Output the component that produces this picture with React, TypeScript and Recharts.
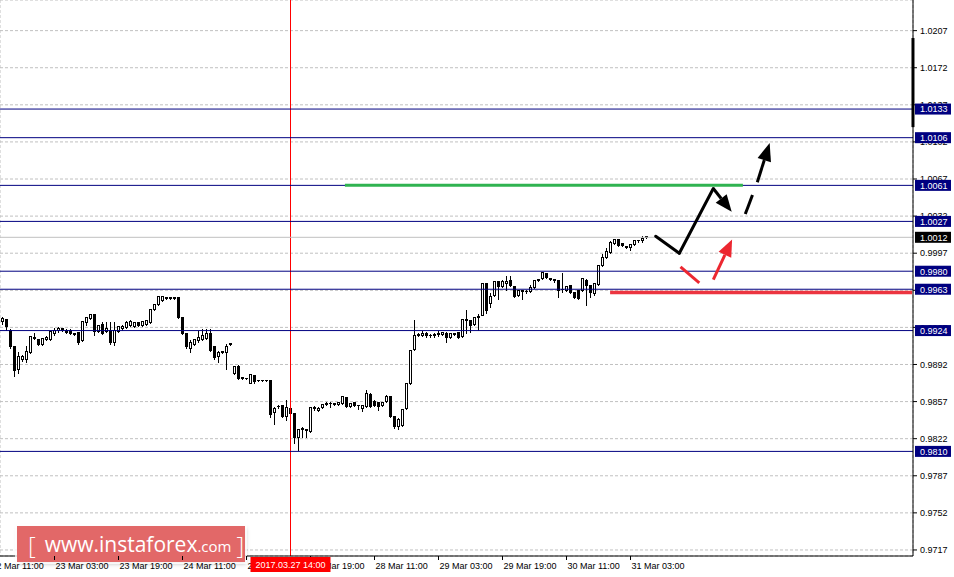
import {
  Bar,
  CartesianGrid,
  ComposedChart,
  ReferenceLine,
  XAxis,
  YAxis,
} from "recharts";

// H1 candles, [open, high, low, close], one array per trading day
const mar22 = [
  [0.9933, 0.9938, 0.993, 0.9936], [0.9935, 0.9936, 0.9925, 0.9928], [0.9925, 0.9926, 0.9908, 0.9909],
  [0.9909, 0.991, 0.9881, 0.9887], [0.9888, 0.9905, 0.9884, 0.99], [0.9897, 0.9902, 0.9895, 0.99],
  [0.9897, 0.991, 0.9894, 0.9905], [0.9904, 0.992, 0.9903, 0.9919], [0.9917, 0.9923, 0.9916, 0.9918],
  [0.9916, 0.9917, 0.991, 0.9911],
];
const mar23 = [
  [0.9911, 0.9918, 0.991, 0.9917], [0.9916, 0.992, 0.9915, 0.9918], [0.9916, 0.9924, 0.9915, 0.9924],
  [0.9922, 0.9927, 0.992, 0.9925], [0.9925, 0.9928, 0.9923, 0.9926], [0.9926, 0.9927, 0.9924, 0.9925],
  [0.9925, 0.9926, 0.9922, 0.9923], [0.9925, 0.9926, 0.9921, 0.9922], [0.9922, 0.9923, 0.992, 0.9921],
  [0.9923, 0.9924, 0.9911, 0.9913], [0.9915, 0.9934, 0.9914, 0.9933], [0.9932, 0.9938, 0.9929, 0.9937],
  [0.9936, 0.9941, 0.9935, 0.994], [0.994, 0.9941, 0.992, 0.9924], [0.9924, 0.993, 0.9923, 0.9929],
  [0.993, 0.9933, 0.9921, 0.9922], [0.9924, 0.9933, 0.9923, 0.9926], [0.9925, 0.9933, 0.9911, 0.9913],
  [0.9913, 0.9933, 0.991, 0.9925], [0.9924, 0.9929, 0.9923, 0.9928], [0.9926, 0.993, 0.9925, 0.9928],
  [0.9927, 0.9934, 0.9926, 0.9932], [0.9929, 0.9935, 0.9928, 0.9933], [0.9928, 0.9933, 0.9927, 0.9932],
];
const mar24 = [
  [0.9932, 0.9933, 0.9928, 0.9929], [0.9929, 0.9934, 0.9928, 0.9933], [0.993, 0.9935, 0.9929, 0.9934],
  [0.9932, 0.9945, 0.9931, 0.9944], [0.9944, 0.995, 0.9943, 0.9949], [0.9949, 0.9958, 0.9948, 0.9957],
  [0.9953, 0.9958, 0.9952, 0.9957], [0.9956, 0.9957, 0.9954, 0.9955], [0.9955, 0.9957, 0.9954, 0.9956],
  [0.9955, 0.9957, 0.9954, 0.9956], [0.9956, 0.9957, 0.9936, 0.9937], [0.9937, 0.9938, 0.9921, 0.9922],
  [0.9922, 0.9923, 0.9908, 0.9909], [0.9908, 0.9916, 0.9904, 0.9913], [0.9911, 0.9917, 0.991, 0.9916],
  [0.9915, 0.9925, 0.9913, 0.9918], [0.9916, 0.9926, 0.9915, 0.992], [0.9917, 0.9926, 0.9916, 0.9922],
  [0.9922, 0.9926, 0.9905, 0.9906], [0.9909, 0.991, 0.9897, 0.9899], [0.99, 0.9906, 0.9894, 0.9904],
  [0.9904, 0.9906, 0.9903, 0.9905], [0.9904, 0.9912, 0.9888, 0.9909], [0.9911, 0.9913, 0.991, 0.9912],
];
const mar27 = [
  [0.9884, 0.9891, 0.9883, 0.9891], [0.9891, 0.9892, 0.9878, 0.9879], [0.9879, 0.9881, 0.9878, 0.988],
  [0.9879, 0.988, 0.9878, 0.9879], [0.9875, 0.9884, 0.9875, 0.9883], [0.9882, 0.9883, 0.9875, 0.9876],
  [0.9877, 0.9878, 0.9876, 0.9877], [0.9877, 0.9878, 0.9876, 0.9877], [0.9877, 0.9878, 0.9876, 0.9877],
  [0.9877, 0.9878, 0.9842, 0.9845], [0.9847, 0.9853, 0.9836, 0.9851], [0.9853, 0.9855, 0.9851, 0.9853],
  [0.9854, 0.9855, 0.9842, 0.9843], [0.9843, 0.9859, 0.984, 0.9852], [0.9851, 0.9852, 0.9845, 0.9846],
  [0.9846, 0.9847, 0.9818, 0.9824], [0.9824, 0.9832, 0.9811, 0.9831], [0.9831, 0.9834, 0.9824, 0.9832],
  [0.983, 0.9832, 0.9824, 0.9831], [0.9829, 0.9853, 0.9828, 0.9852], [0.9852, 0.9854, 0.9849, 0.9851],
  [0.9849, 0.9853, 0.9848, 0.9851], [0.9852, 0.9856, 0.9851, 0.9855], [0.9855, 0.9858, 0.9854, 0.9856],
];
const mar28 = [
  [0.9856, 0.9858, 0.9852, 0.9856], [0.9856, 0.9857, 0.9854, 0.9855], [0.9855, 0.9858, 0.9854, 0.9857],
  [0.9856, 0.9862, 0.9855, 0.9862], [0.9861, 0.9862, 0.9852, 0.9853], [0.9853, 0.9857, 0.9852, 0.9856],
  [0.9857, 0.9858, 0.9853, 0.9854], [0.9854, 0.9855, 0.985, 0.9854], [0.9851, 0.9855, 0.9848, 0.9854],
  [0.9853, 0.9869, 0.9852, 0.9865], [0.9864, 0.9866, 0.9852, 0.9853], [0.9858, 0.9859, 0.9853, 0.9854],
  [0.9857, 0.9858, 0.9849, 0.9853], [0.9854, 0.9858, 0.9853, 0.9857], [0.9858, 0.9864, 0.9857, 0.9862],
  [0.9862, 0.9863, 0.9842, 0.9843], [0.9843, 0.9844, 0.9832, 0.9834], [0.9834, 0.9842, 0.9831, 0.9841],
  [0.9835, 0.9851, 0.9834, 0.985], [0.9851, 0.9875, 0.985, 0.9875], [0.9875, 0.9907, 0.9874, 0.9906],
  [0.9907, 0.9935, 0.9906, 0.992], [0.992, 0.9923, 0.9919, 0.9921], [0.992, 0.9925, 0.9919, 0.9922],
];
const mar29 = [
  [0.9922, 0.9924, 0.9918, 0.992], [0.992, 0.9922, 0.9918, 0.992], [0.992, 0.9923, 0.9918, 0.9921],
  [0.9921, 0.9925, 0.9919, 0.9922], [0.9921, 0.9924, 0.992, 0.9923], [0.9922, 0.9924, 0.9913, 0.9918],
  [0.9918, 0.9923, 0.9917, 0.9922], [0.9921, 0.9923, 0.992, 0.9922], [0.9923, 0.9924, 0.9917, 0.9918],
  [0.9919, 0.9936, 0.9918, 0.9935], [0.9935, 0.9944, 0.9922, 0.9934], [0.9934, 0.9935, 0.9923, 0.9929],
  [0.993, 0.9938, 0.9929, 0.9937], [0.9937, 0.9941, 0.9925, 0.9938], [0.9939, 0.997, 0.9939, 0.9969],
  [0.9969, 0.997, 0.9941, 0.9943], [0.995, 0.996, 0.9946, 0.9957], [0.9958, 0.9972, 0.9957, 0.9971],
  [0.9971, 0.9972, 0.9954, 0.9966], [0.9966, 0.9973, 0.9965, 0.9971], [0.9969, 0.9976, 0.9962, 0.9971],
  [0.9972, 0.9976, 0.9966, 0.9967], [0.9966, 0.9967, 0.9956, 0.9957], [0.9958, 0.9963, 0.9957, 0.9962],
];
const mar30 = [
  [0.9962, 0.9963, 0.9954, 0.9961], [0.9961, 0.9963, 0.9959, 0.9961], [0.9961, 0.9968, 0.996, 0.9965],
  [0.9965, 0.9973, 0.9964, 0.9972], [0.9972, 0.9974, 0.9971, 0.9973], [0.9974, 0.998, 0.9973, 0.9979],
  [0.9978, 0.9979, 0.9974, 0.9975], [0.9974, 0.9975, 0.9972, 0.9973], [0.9973, 0.9973, 0.997, 0.9972],
  [0.9972, 0.9973, 0.9956, 0.9962], [0.9963, 0.9979, 0.996, 0.9963], [0.9962, 0.9967, 0.9961, 0.9966],
  [0.9967, 0.9968, 0.9959, 0.996], [0.996, 0.9961, 0.9955, 0.9956], [0.9962, 0.9963, 0.9954, 0.9955],
  [0.9962, 0.9975, 0.9961, 0.9974], [0.9972, 0.9974, 0.9948, 0.9967], [0.9967, 0.9968, 0.9956, 0.996],
  [0.9959, 0.997, 0.9958, 0.9969], [0.9968, 0.9987, 0.9967, 0.9986], [0.9986, 0.9997, 0.9985, 0.9993],
  [0.9993, 1.0003, 0.9992, 0.9999], [0.9998, 1.0009, 0.9997, 1.0008], [1.0007, 1.0011, 1.0006, 1.001],
];
const mar31 = [
  [1.001, 1.0011, 1.0004, 1.0005], [1.0007, 1.0008, 1.0004, 1.0005], [1.0004, 1.0005, 1.0002, 1.0003],
  [1.0003, 1.0007, 1.0, 1.0006], [1.0006, 1.001, 1.0005, 1.0009], [1.0009, 1.001, 1.0008, 1.0009],
  [1.0009, 1.0014, 1.0008, 1.0011], [1.0013, 1.0013, 1.0011, 1.0012],
];

// bar index of each date label (bar 0 = 22 Mar 14:00)
const dateLabels = [
  { k: -3, text: "22 Mar 11:00" },
  { k: 13, text: "23 Mar 03:00" },
  { k: 29, text: "23 Mar 19:00" },
  { k: 45, text: "24 Mar 11:00" },
  { k: 61, text: "27 Mar 03:00" },
  { k: 77, text: "27 Mar 19:00" },
  { k: 93, text: "28 Mar 11:00" },
  { k: 109, text: "29 Mar 03:00" },
  { k: 125, text: "29 Mar 19:00" },
  { k: 141, text: "30 Mar 11:00" },
  { k: 157, text: "31 Mar 03:00" },
];
const gridTicks = [
  -3, 5, 13, 21, 29, 37, 45, 53, 61, 69, 77, 85, 93, 101, 109, 117, 125, 133, 141, 149, 157, 165,
  173, 181, 189, 197, 205, 213, 221,
];
const priceTicks = [
  0.9717, 0.9752, 0.9787, 0.9822, 0.9857, 0.9892, 0.9927, 0.9962, 0.9997, 1.0032, 1.0067, 1.0102,
  1.0137, 1.0172, 1.0207,
];
const levels = [1.0133, 1.0106, 1.0061, 1.0027, 0.998, 0.9963, 0.9924, 0.981];
const lastPrice = 1.0012;
const markerBar = 72; // 2017.03.27 14:00
const markerText = "2017.03.27 14:00";

// drawn forecast (bar index, price)
const blackPath = [[163.3, 1.0013], [169.2, 0.9997], [177.7, 1.0058], [182.3, 1.0036]];
const blackDash = [[185.7, 1.0034], [187.5, 1.0052]];
const blackUp = [[188.7, 1.0064], [191.8, 1.0101]];
const redDash = [[169.5, 0.9984], [174.2, 0.9969]];
const redUp = [[177.7, 0.9972], [182.4, 1.001]];
const greenLevel = [[85.6, 1.0061], [185.1, 1.0061]];
const redLevel = [[151.9, 0.996], [227.4, 0.996]];
const shiftBar = [[227.62, 1.02], [227.62, 1.0116]];

const days = [mar22, mar23, mar24, mar27, mar28, mar29, mar30, mar31];
const candles = days.flat().map(([o, h, l, c], k) => ({ k, o, h, l, c }));

const FONT = '"Liberation Sans", Arial, sans-serif';
const NAVY = "#000080";
const X_DOMAIN = [-0.625, 227.625];
const Y_DOMAIN = [0.97113, 1.02359];
const SIZE = { width: 954, height: 577 };
const MARGIN = { top: 0, right: 0, bottom: 0, left: 0 };

function Candle(props: any) {
  const { x, y, width, height, payload } = props;
  const top = Math.min(y, y + height);
  const span = Math.abs(height);
  const { o, h, l, c } = payload;
  const py = (v: number) => top + (h === l ? 0 : ((h - v) / (h - l)) * span);
  const cx = Math.floor(x + width / 2) + 0.5;
  const yHi = Math.round(py(h)) + 0.5;
  const yLo = Math.round(py(l)) + 0.5;
  const yO = Math.round(py(o)) + 0.5;
  const yC = Math.round(py(c)) + 0.5;
  const bTop = Math.min(yO, yC);
  const bBot = Math.max(yO, yC);
  const up = c >= o;
  return (
    <g shapeRendering="crispEdges">
      <line x1={cx} x2={cx} y1={yHi} y2={yLo} stroke="#000" />
      {bBot - bTop < 1 ? (
        <line x1={cx - 1.5} x2={cx + 1.5} y1={bTop} y2={bTop} stroke="#000" />
      ) : (
        <rect x={cx - 1} y={bTop} width={2} height={bBot - bTop} fill={up ? "#fff" : "#000"} stroke="#000" />
      )}
    </g>
  );
}

function DateTick(props: any) {
  const { x, y, payload } = props;
  const lab = dateLabels.find((d) => d.k === payload.value);
  if (!lab) return null;
  const tx = Math.floor(x) + 0.5;
  return (
    <g>
      <line x1={tx} x2={tx} y1={y} y2={y + 4} stroke="#000" />
      <text x={tx + 1} y={y + 12.5} fontSize={9} fontFamily={FONT} fill="#000">
        {lab.text}
      </text>
    </g>
  );
}

function PriceTick(props: any) {
  const { x, y, payload } = props;
  return (
    <g>
      <line x1={x} x2={x + 4} y1={y} y2={y} stroke="#000" />
      <text x={x + 7} y={y + 3.3} fontSize={9} fontFamily={FONT} fill="#000">
        {payload.value.toFixed(4)}
      </text>
    </g>
  );
}

function priceFlag(value: number, bg: string) {
  return (props: any) => {
    const vb = props.viewBox;
    const right = vb.x + vb.width;
    return (
      <g>
        <rect x={right + 2} y={vb.y - 5.5} width={36} height={11} fill={bg} />
        <text x={right + 7} y={vb.y + 3.3} fontSize={9} fontFamily={FONT} fill="#fff">
          {value.toFixed(4)}
        </text>
      </g>
    );
  };
}

function DateFlag(props: any) {
  const vb = props.viewBox;
  const bottom = vb.y + vb.height;
  return (
    <g>
      <rect x={vb.x - 40} y={bottom + 1} width={80} height={15} fill="#ff0000" />
      <text x={vb.x} y={bottom + 12} textAnchor="middle" fontSize={9} fontFamily={FONT} fill="#fff">
        {markerText}
      </text>
    </g>
  );
}

function arrowShape(headLen: number, headW: number) {
  return (p: any) => {
    const { x1, y1, x2, y2, stroke, strokeWidth } = p;
    const dx = x2 - x1;
    const dy = y2 - y1;
    const len = Math.hypot(dx, dy) || 1;
    const ux = dx / len;
    const uy = dy / len;
    const bx = x2 - ux * headLen;
    const by = y2 - uy * headLen;
    return (
      <g>
        <line x1={x1} y1={y1} x2={bx} y2={by} stroke={stroke} strokeWidth={strokeWidth} />
        <polygon
          points={`${x2},${y2} ${bx - uy * headW},${by + ux * headW} ${bx + uy * headW},${by - ux * headW}`}
          fill={stroke}
        />
      </g>
    );
  };
}

const seg = (pts: number[][], i: number) => [
  { x: pts[i][0], y: pts[i][1] },
  { x: pts[i + 1][0], y: pts[i + 1][1] },
];

// invisible axes that give an overlay chart the same scales as the base chart
function overlayAxes(showDates: boolean) {
  return [
    <XAxis
      key="x"
      dataKey="k"
      type="number"
      domain={X_DOMAIN}
      allowDataOverflow
      ticks={gridTicks}
      interval={0}
      tick={showDates ? <DateTick /> : false}
      tickLine={false}
      tickSize={0}
      tickMargin={0}
      axisLine={false}
      height={21}
    />,
    <YAxis
      key="y"
      orientation="right"
      type="number"
      domain={Y_DOMAIN}
      allowDataOverflow
      ticks={priceTicks}
      tick={false}
      tickLine={false}
      axisLine={false}
      width={41}
    />,
  ];
}

const layer = { position: "absolute" as const, left: 0, top: 0 };

export default function App() {
  return (
    <div style={{ position: "absolute", left: 0, top: 0, width: 954, height: 577, background: "#fff" }}>
      {/* base layer: grid, candles, level lines */}
      <ComposedChart {...SIZE} data={candles} margin={MARGIN}>
        <CartesianGrid stroke="#c0c0c0" strokeDasharray="3 2" />
        <XAxis
          dataKey="k"
          type="number"
          domain={X_DOMAIN}
          allowDataOverflow
          ticks={gridTicks}
          tick={false}
          tickLine={false}
          height={21}
          axisLine={{ stroke: "#000" }}
        />
        <YAxis
          orientation="right"
          type="number"
          domain={Y_DOMAIN}
          allowDataOverflow
          ticks={priceTicks}
          interval={0}
          tick={<PriceTick />}
          tickLine={false}
          tickSize={0}
          tickMargin={0}
          width={41}
          axisLine={{ stroke: "#000" }}
        />
        <ReferenceLine x={markerBar} stroke="#ff0000" />
        <ReferenceLine y={lastPrice} stroke="#c0c0c0" />
        {levels.map((v) => (
          <ReferenceLine key={v} y={v} stroke={NAVY} />
        ))}
        <Bar
          dataKey={(d: any) => [d.l, d.h]}
          barSize={3}
          shape={(p: any) => <Candle {...p} />}
          isAnimationActive={false}
        />
      </ComposedChart>

      <div
        style={{
          position: "absolute",
          left: 17,
          top: 526,
          width: 228,
          height: 36,
          background: "rgb(226, 104, 104)",
          boxShadow: "0 0 0 2px rgba(255,255,255,0.8), 1px 2px 4px rgba(0,0,0,0.25)",
          color: "#fff",
          fontFamily: '"Open Sans", "DejaVu Sans", sans-serif',
          display: "flex",
          alignItems: "center",
          whiteSpace: "nowrap",
        }}
      >
        <span style={{ fontSize: 24, fontWeight: 300, marginLeft: 11 }}>[</span>
        <span style={{ fontSize: 21, marginLeft: 9 }}>www.instaforex</span>
        <span style={{ fontSize: 15, marginTop: 4 }}>.com</span>
        <span style={{ fontSize: 24, fontWeight: 300, marginLeft: 5 }}>]</span>
      </div>

      {/* overlay: date labels, price flags and the drawn forecast */}
      <div style={layer}>
        <ComposedChart {...SIZE} data={candles} margin={MARGIN}>
          {overlayAxes(true)}
          <ReferenceLine y={lastPrice} stroke="none" label={priceFlag(lastPrice, "#000")} />
          {levels.map((v) => (
            <ReferenceLine key={v} y={v} stroke="none" label={priceFlag(v, NAVY)} />
          ))}
          <ReferenceLine segment={seg(greenLevel, 0)} stroke="#2fb350" strokeWidth={3} />
          <ReferenceLine segment={seg(redLevel, 0)} stroke="#ec3540" strokeWidth={3.5} />
          <ReferenceLine segment={seg(blackPath, 0)} stroke="#000" strokeWidth={3} strokeLinecap="round" />
          <ReferenceLine segment={seg(blackPath, 1)} stroke="#000" strokeWidth={3} strokeLinecap="round" />
          <ReferenceLine segment={seg(blackPath, 2)} stroke="#000" strokeWidth={3} shape={arrowShape(17, 7)} />
          <ReferenceLine segment={seg(blackDash, 0)} stroke="#000" strokeWidth={3} />
          <ReferenceLine segment={seg(blackUp, 0)} stroke="#000" strokeWidth={3} shape={arrowShape(18, 7)} />
          <ReferenceLine segment={seg(redDash, 0)} stroke="#ec2730" strokeWidth={3} />
          <ReferenceLine segment={seg(redUp, 0)} stroke="#ec2730" strokeWidth={3} shape={arrowShape(17, 7)} />
          <ReferenceLine segment={seg(shiftBar, 0)} stroke="#000" strokeWidth={3} ifOverflow="visible" />
        </ComposedChart>
      </div>

      {/* top layer: the red time flag covers the date label under it */}
      <div style={layer}>
        <ComposedChart {...SIZE} data={candles} margin={MARGIN}>
          {overlayAxes(false)}
          <ReferenceLine x={markerBar} stroke="none" label={DateFlag} />
        </ComposedChart>
      </div>
    </div>
  );
}
